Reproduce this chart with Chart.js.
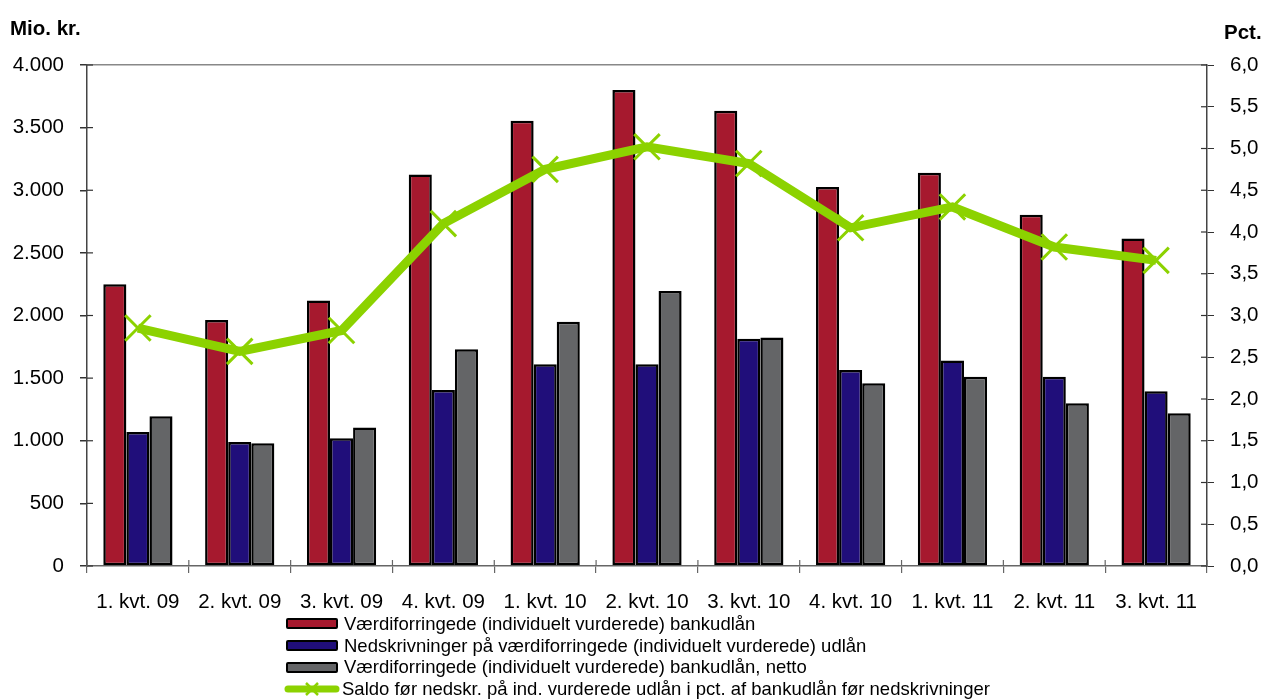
<!DOCTYPE html>
<html>
<head>
<meta charset="utf-8">
<script src="https://cdn.jsdelivr.net/npm/chart.js@4.4.0/dist/chart.umd.min.js"></script>
<style>
  html, body { margin: 0; padding: 0; background: #fff; }
  #wrap { position: relative; width: 1264px; height: 700px; font-family: "Liberation Sans", Arial, sans-serif; }
  #c { position: absolute; left: 0; top: 0; }
  .ttl { position: absolute; font-weight: bold; font-size: 20.5px; color: #000; }
  #legend { position: absolute; left: 286px; top: 613px; font-family: "Liberation Sans", Arial, sans-serif; font-size: 18.5px; color: #000; }
  .row { height: 21.7px; display: flex; align-items: center; white-space: nowrap; }
  .box { width: 48px; height: 7px; border: 2px solid #000; border-radius: 2px; margin-right: 6px; }
  .sym { width: 56px; height: 20px; margin-right: 2px; margin-left: -2px; }
</style>
</head>
<body>
<div id="wrap">
  <canvas id="c" width="1264" height="620"></canvas>
  <div class="ttl" style="left:10px; top:16px;">Mio. kr.</div>
  <div class="ttl" style="left:1224px; top:20px;">Pct.</div>
  <div id="legend"></div>
</div>
<script>
const categories = ["1. kvt. 09","2. kvt. 09","3. kvt. 09","4. kvt. 09","1. kvt. 10","2. kvt. 10","3. kvt. 10","4. kvt. 10","1. kvt. 11","2. kvt. 11","3. kvt. 11"];
const seriesNames = [
  "Værdiforringede (individuelt vurderede) bankudlån",
  "Nedskrivninger på værdiforringede (individuelt vurderede) udlån",
  "Værdiforringede (individuelt vurderede) bankudlån, netto",
  "Saldo før nedskr. på ind. vurderede udlån i pct. af bankudlån før nedskrivninger"
];
const impaired = [2250, 1965, 2120, 3125, 3555, 3800, 3635, 3025, 3140, 2805, 2615];
const writedowns = [1070, 990, 1020, 1405, 1610, 1610, 1815, 1565, 1640, 1510, 1395];
const netto = [1195, 980, 1105, 1730, 1950, 2195, 1825, 1460, 1510, 1300, 1220];
const pctSaldo = [2.85, 2.57, 2.82, 4.10, 4.75, 5.02, 4.82, 4.05, 4.30, 3.82, 3.66];

const colors = ["#A6192E", "#200E7A", "#646567", "#8CD200"];
const FONT = "'Liberation Sans', Arial, sans-serif";

// draws the inner half of the axis tick marks (ticks cross the axis lines)
const innerTicks = {
  id: 'innerTicks',
  afterDatasetsDraw(chart) {
    const ctx = chart.ctx, a = chart.chartArea, L = 6;
    ctx.save();
    ctx.lineWidth = 1.2;
    ctx.strokeStyle = '#333';
    const y = chart.scales.y, y1 = chart.scales.y1, x = chart.scales.x;
    y.ticks.forEach((t, i) => { const p = y.getPixelForTick(i); ctx.beginPath(); ctx.moveTo(a.left, p); ctx.lineTo(a.left + L, p); ctx.stroke(); });
    y1.ticks.forEach((t, i) => { const p = y1.getPixelForTick(i); ctx.beginPath(); ctx.moveTo(a.right, p); ctx.lineTo(a.right - L, p); ctx.stroke(); });
    ctx.strokeStyle = '#666';
    for (let i = 0; i <= x.ticks.length; i++) {
      const p = x.getPixelForValue(i - 0.5);
      ctx.beginPath(); ctx.moveTo(p, a.bottom); ctx.lineTo(p, a.bottom - L); ctx.stroke();
    }
    ctx.restore();
  }
};

const chart = new Chart(document.getElementById('c'), {
  type: 'bar',
  data: {
    labels: categories,
    datasets: [
      { label: seriesNames[3], type: 'line', data: pctSaldo, yAxisID: 'y1', order: 0,
        borderColor: colors[3], borderWidth: 9, pointStyle: 'crossRot', pointRadius: 18,
        pointBorderWidth: 3, pointBorderColor: colors[3], pointBackgroundColor: colors[3], tension: 0, fill: false },
      { label: seriesNames[0], data: impaired, backgroundColor: colors[0], borderColor: '#000', borderWidth: 2.5, borderSkipped: false, yAxisID: 'y', order: 1 },
      { label: seriesNames[1], data: writedowns, backgroundColor: colors[1], borderColor: '#000', borderWidth: 2.5, borderSkipped: false, yAxisID: 'y', order: 1 },
      { label: seriesNames[2], data: netto, backgroundColor: colors[2], borderColor: '#000', borderWidth: 2.5, borderSkipped: false, yAxisID: 'y', order: 1 }
    ]
  },
  options: {
    responsive: false,
    animation: false,
    devicePixelRatio: 1,
    layout: { padding: { top: 65, left: 0, right: 0, bottom: 0 } },
    datasets: { bar: { categoryPercentage: 0.68, barPercentage: 1.0 } },
    plugins: { legend: { display: false }, tooltip: { enabled: false } },
    scales: {
      x: {
        offset: true,
        grid: { offset: true, drawOnChartArea: false, tickLength: 7, tickColor: '#666', lineWidth: 1.2 },
        border: { color: '#666', width: 1.5 },
        ticks: { color: '#000', font: { family: FONT, size: 20.5 }, padding: 17, maxRotation: 0, autoSkip: false },
        afterFit: (s) => { s.height = 54; }
      },
      y: {
        position: 'left', min: 0, max: 4000,
        grid: {
          drawOnChartArea: true, tickLength: 7, tickColor: '#333',
          color: (ctx) => (ctx.tick && ctx.tick.value === 4000) ? '#888' : 'rgba(0,0,0,0)',
          lineWidth: 1.5
        },
        border: { color: '#444', width: 1.5 },
        ticks: { stepSize: 500, color: '#000', padding: 16, font: { family: FONT, size: 20.5 },
          callback: (v) => v.toString().replace(/\B(?=(\d{3})+(?!\d))/g, '.') },
        afterFit: (s) => { s.width = 87; }
      },
      y1: {
        position: 'right', min: 0, max: 6,
        grid: { drawOnChartArea: false, tickLength: 7, tickColor: '#333' },
        border: { color: '#444', width: 1.5 },
        ticks: { stepSize: 0.5, color: '#000', padding: 16, font: { family: FONT, size: 20.5 },
          callback: (v) => Number(v).toFixed(1).replace('.', ',') },
        afterFit: (s) => { s.width = 57; }
      }
    }
  },
  plugins: [innerTicks]
});

// HTML legend built from datasets
const leg = document.getElementById('legend');
const order = [1, 2, 3, 0];
order.forEach(i => {
  const ds = chart.data.datasets[i];
  const row = document.createElement('div');
  row.className = 'row';
  if (ds.type === 'line') {
    row.innerHTML = '<svg class="sym" viewBox="0 0 56 20"><line x1="4" y1="10" x2="52" y2="10" stroke="' + ds.borderColor + '" stroke-width="7" stroke-linecap="round"/>' +
      '<line x1="22" y1="4" x2="34" y2="16" stroke="' + ds.borderColor + '" stroke-width="2.5"/><line x1="22" y1="16" x2="34" y2="4" stroke="' + ds.borderColor + '" stroke-width="2.5"/></svg>';
  } else {
    row.innerHTML = '<div class="box" style="background:' + ds.backgroundColor + '"></div>';
  }
  const span = document.createElement('span');
  span.textContent = ds.label;
  row.appendChild(span);
  leg.appendChild(row);
});
</script>
</body>
</html>
